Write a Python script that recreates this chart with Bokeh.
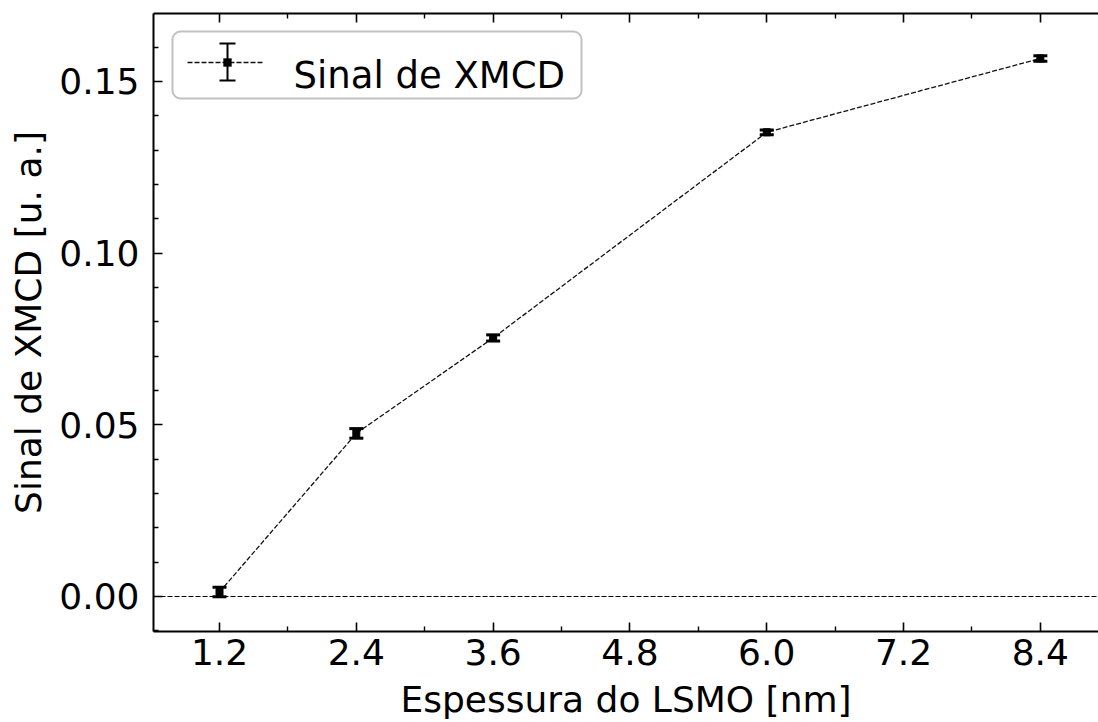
from bokeh.plotting import figure
from bokeh.models import (ColumnDataSource, Whisker, TeeHead, Span, LinearAxis,
                          FixedTicker, BoxAnnotation, Arrow, Label, Range1d)
from bokeh.embed import file_html
from bokeh.resources import INLINE

# ---- data ----
thickness = [1.2, 2.4, 3.6, 6.0, 8.4]
xmcd = [0.0013, 0.0475, 0.0753, 0.1352, 0.1567]
xmcd_err = [0.0014, 0.0014, 0.0009, 0.0007, 0.0008]
x_major = [1.2, 2.4, 3.6, 4.8, 6.0, 7.2, 8.4]
x_minor = [1.8, 3.0, 4.2, 5.4, 6.6, 7.8]
y_major = [0.0, 0.05, 0.10, 0.15]
y_minor = [-0.01, 0.01, 0.02, 0.03, 0.04, 0.06, 0.07, 0.08, 0.09,
           0.11, 0.12, 0.13, 0.14, 0.16, 0.17]
x_labels = ["1.2", "2.4", "3.6", "4.8", "6.0", "7.2", "8.4"]
y_labels = ["0.00", "0.05", "0.10", "0.15"]
legend_label = "Sinal de XMCD"
x_title = "Espessura do LSMO [nm]"
y_title = "Sinal de XMCD [u. a.]"

FONT = "DejaVu Sans"
FS = "36px"
DASH = "5 2"
X_START, X_END = 0.621, 8.91

src = ColumnDataSource(dict(
    x=thickness, y=xmcd,
    upper=[v + e for v, e in zip(xmcd, xmcd_err)],
    lower=[v - e for v, e in zip(xmcd, xmcd_err)],
))

p = figure(width=1098, height=722, output_backend="svg", toolbar_location=None,
           x_range=Range1d(X_START, X_END), y_range=Range1d(-0.0102, 0.1698),
           min_border_left=153, min_border_right=0, min_border_top=13,
           min_border_bottom=91)
p.outline_line_color = None
p.grid.visible = False
p.background_fill_color = "white"
p.border_fill_color = "white"

# baseline at zero
p.add_layout(Span(location=0, dimension="width", line_color="black",
                  line_width=1.1, line_dash=DASH))

p.line("x", "y", source=src, line_color="#111111", line_width=1.3,
       line_dash=DASH)
p.add_layout(Whisker(base="x", upper="upper", lower="lower", source=src,
                     dimension="height", line_width=3, line_color="black",
                     upper_head=TeeHead(size=14, line_width=3, line_color="black"),
                     lower_head=TeeHead(size=14, line_width=3, line_color="black"),
                     level="glyph"))
p.scatter("x", "y", source=src, marker="square", size=7, color="black")

def style_axis(ax, labels=True):
    ax.axis_line_width = 2
    ax.axis_line_color = "black"
    ax.major_tick_in = 9
    ax.major_tick_out = 0
    ax.minor_tick_in = 5
    ax.minor_tick_out = 0
    ax.major_tick_line_width = 1.6
    ax.minor_tick_line_width = 1.4
    ax.major_tick_line_color = "black"
    ax.minor_tick_line_color = "black"
    ax.major_label_text_font = FONT
    ax.major_label_text_color = "black"
    ax.axis_label_text_color = "black"
    if labels:
        ax.major_label_text_font_size = FS
    else:
        ax.major_label_text_font_size = "0px"
        ax.major_label_standoff = 0

xt = FixedTicker(ticks=x_major, minor_ticks=x_minor)
yt = FixedTicker(ticks=y_major, minor_ticks=y_minor)

xa = p.xaxis[0]
xa.ticker = xt
xa.major_label_overrides = {v: s for v, s in zip(x_major, x_labels)}
style_axis(xa)
xa.major_label_standoff = 7
xa.axis_label = x_title
xa.axis_label_text_font = FONT
xa.axis_label_text_font_size = FS
xa.axis_label_text_font_style = "normal"
xa.axis_label_standoff = 11

ya = p.yaxis[0]
ya.ticker = yt
ya.major_label_overrides = {v: s for v, s in zip(y_major, y_labels)}
style_axis(ya)
ya.major_label_standoff = 14
ya.axis_label = y_title
ya.axis_label_text_font = FONT
ya.axis_label_text_font_size = FS
ya.axis_label_text_font_style = "normal"
ya.axis_label_standoff = 7

top = LinearAxis(ticker=FixedTicker(ticks=x_major, minor_ticks=x_minor))
style_axis(top, labels=False)
top.major_label_overrides = {v: "" for v in x_major}
p.add_layout(top, "above")

# ---- legend (drawn in frame screen units, y up from frame bottom) ----
p.add_layout(BoxAnnotation(left=19, right=428, top=600, bottom=533,
                           left_units="screen", right_units="screen",
                           top_units="screen", bottom_units="screen",
                           fill_color="white", fill_alpha=1.0,
                           line_color="#333333", line_width=2,
                           border_radius=8, level="annotation"))
p.add_layout(Arrow(x_start=34, y_start=569, x_end=109, y_end=569,
                   start_units="screen", end_units="screen", end=None,
                   line_color="#111111", line_width=1.3, line_dash=DASH))
p.add_layout(Arrow(x_start=74, y_start=551, x_end=74, y_end=588,
                   start_units="screen", end_units="screen",
                   start=TeeHead(size=16, line_width=2.2, line_color="black"),
                   end=TeeHead(size=16, line_width=2.2, line_color="black"),
                   line_color="black", line_width=2))
p.add_layout(BoxAnnotation(left=70, right=78, top=573, bottom=565,
                           left_units="screen", right_units="screen",
                           top_units="screen", bottom_units="screen",
                           fill_color="black", fill_alpha=1.0,
                           line_color="black", level="annotation"))
p.add_layout(Label(x=140, y=556, x_units="screen", y_units="screen",
                   text=legend_label, text_font=FONT, text_font_size="37px",
                   text_color="black", text_baseline="alphabetic"))

open("out.html", "w").write(file_html(p, INLINE))
